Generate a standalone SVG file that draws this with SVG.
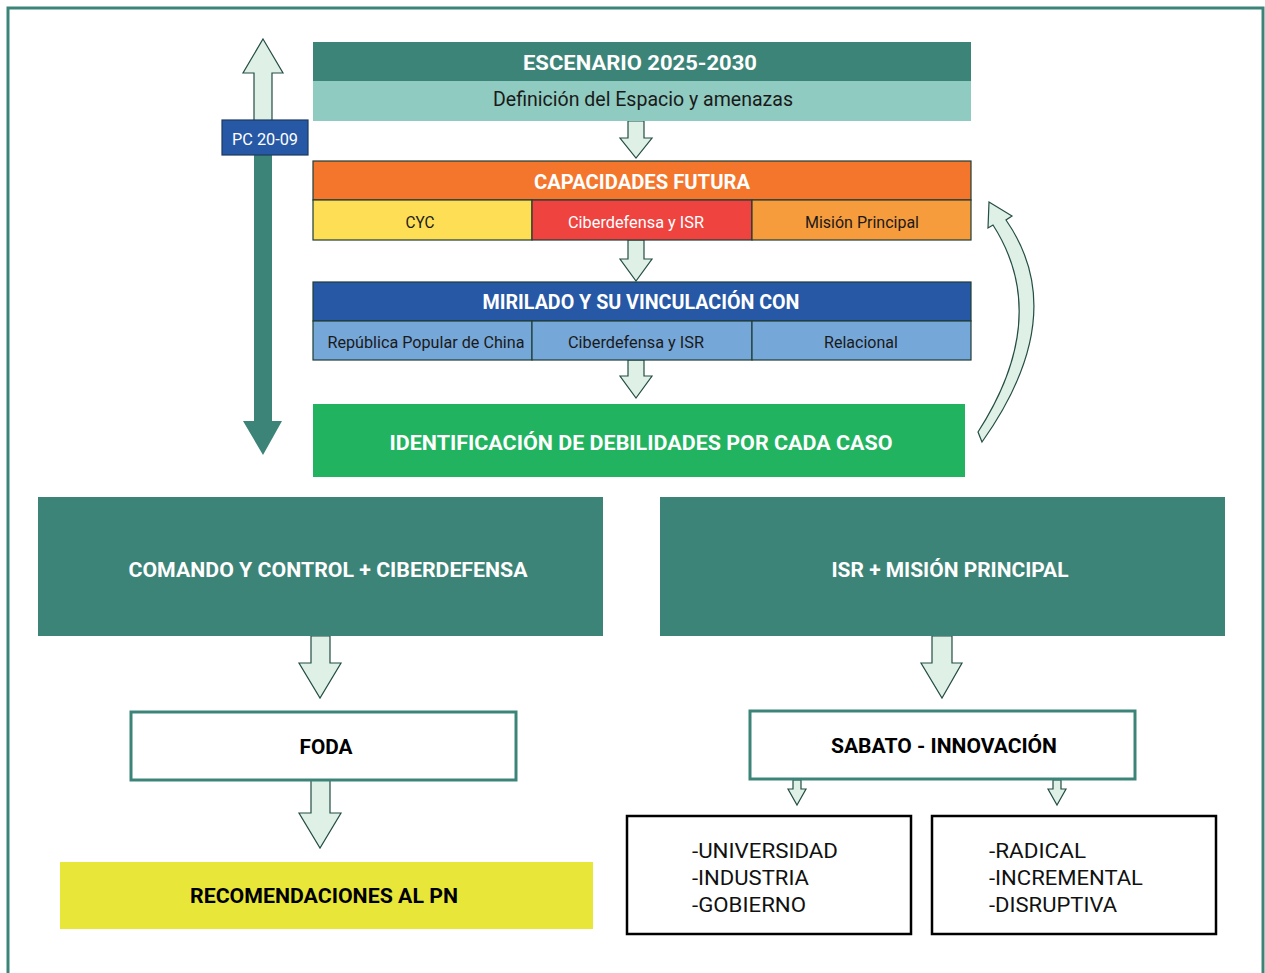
<svg xmlns="http://www.w3.org/2000/svg" width="1265" height="973" viewBox="0 0 1265 973">
<style>
.t{font-family:Roboto,"Liberation Sans",sans-serif;}
.b{font-weight:bold;}
.w{fill:#ffffff;}
.k{fill:#1a1a1a;}
.cell{stroke:#1f3d36;stroke-width:1.2;}
.la{fill:#dff0e6;stroke:#244d44;stroke-width:1.2;}
</style>
<rect x="8" y="8" width="1255" height="975" fill="#ffffff" stroke="#3d8478" stroke-width="3"/>

<g id="connectors">
  <path class="la" d="M628,121 H644 V138 H652 L636,158 L620,138 H628 Z"/>
  <path class="la" d="M628,240 H644 V259 H652 L636,281 L620,259 H628 Z"/>
  <path class="la" d="M628,360 H644 V376 H652 L636,398 L620,376 H628 Z"/>
  <path class="la" d="M989,202 L1012,216 L1006,220 Q1072,315 982,442 L978,432 Q1052,317 993,225 L988,228 Z"/>
  <path class="la" d="M263,39 L283,73 H272 V121 H254 V73 H243 Z"/>
  <path d="M254,155 H272 V421 H282 L263,455 L243,421 H254 Z" fill="#3d8478"/>
  <path class="la" d="M311,636 H330 V663 H341 L320,698 L299,663 H311 Z"/>
  <path class="la" d="M311,780 H330 V813 H341 L320,848 L299,813 H311 Z"/>
  <path class="la" d="M932,636 H952 V663 H962 L942,698 L921,663 H932 Z"/>
  <path class="la" d="M793,780 H801 V789 H806 L797,805 L788,789 H793 Z"/>
  <path class="la" d="M1053,780 H1061 V789 H1066 L1057,805 L1048,789 H1053 Z"/>
</g>

<g id="pc">
  <rect x="222" y="120" width="86" height="35" fill="#2758a5" stroke="#1b3a5e" stroke-width="1.2"/>
  <text class="t w" x="265" y="145" font-size="17" text-anchor="middle" textLength="66" lengthAdjust="spacingAndGlyphs">PC 20-09</text>
</g>

<g id="escenario">
  <rect x="313" y="42" width="658" height="39" fill="#3d8478"/>
  <rect x="313" y="81" width="658" height="40" fill="#8fcbc0"/>
  <text class="t b w" x="640" y="70" font-size="21" text-anchor="middle" textLength="234" lengthAdjust="spacingAndGlyphs">ESCENARIO 2025-2030</text>
  <text class="t k" x="643" y="106" font-size="20" text-anchor="middle" textLength="300" lengthAdjust="spacingAndGlyphs">Definición del Espacio y amenazas</text>
</g>

<g id="capacidades">
  <rect class="cell" x="313" y="161" width="658" height="39" fill="#f4762c"/>
  <rect class="cell" x="313" y="200" width="219" height="40" fill="#fdde55"/>
  <rect class="cell" x="532" y="200" width="220" height="40" fill="#ef4340"/>
  <rect class="cell" x="752" y="200" width="219" height="40" fill="#f79c3c"/>
  <text class="t b w" x="642" y="189" font-size="20" text-anchor="middle" textLength="216" lengthAdjust="spacingAndGlyphs">CAPACIDADES FUTURA</text>
  <text class="t k" x="420" y="228" font-size="17" text-anchor="middle" textLength="29" lengthAdjust="spacingAndGlyphs">CYC</text>
  <text class="t w" x="636" y="228" font-size="17" text-anchor="middle" textLength="136" lengthAdjust="spacingAndGlyphs">Ciberdefensa y ISR</text>
  <text class="t k" x="862" y="228" font-size="17" text-anchor="middle" textLength="114" lengthAdjust="spacingAndGlyphs">Misión Principal</text>
</g>

<g id="mirilado">
  <rect class="cell" x="313" y="282" width="658" height="39" fill="#2758a5"/>
  <rect class="cell" x="313" y="321" width="219" height="39" fill="#76a7d9"/>
  <rect class="cell" x="532" y="321" width="220" height="39" fill="#76a7d9"/>
  <rect class="cell" x="752" y="321" width="219" height="39" fill="#76a7d9"/>
  <text class="t b w" x="641" y="309" font-size="20" text-anchor="middle" textLength="317" lengthAdjust="spacingAndGlyphs">MIRILADO Y SU VINCULACIÓN CON</text>
  <text class="t k" x="426" y="348" font-size="17" text-anchor="middle" textLength="197" lengthAdjust="spacingAndGlyphs">República Popular de China</text>
  <text class="t k" x="636" y="348" font-size="17" text-anchor="middle" textLength="136" lengthAdjust="spacingAndGlyphs">Ciberdefensa y ISR</text>
  <text class="t k" x="861" y="348" font-size="17" text-anchor="middle" textLength="74" lengthAdjust="spacingAndGlyphs">Relacional</text>
</g>

<g id="identificacion">
  <rect x="313" y="404" width="652" height="73" fill="#21b35f"/>
  <text class="t b w" x="641" y="450" font-size="20" text-anchor="middle" textLength="503" lengthAdjust="spacingAndGlyphs">IDENTIFICACIÓN DE DEBILIDADES POR CADA CASO</text>
</g>

<g id="comando">
  <rect x="38" y="497" width="565" height="139" fill="#3d8478"/>
  <text class="t b w" x="328" y="577" font-size="21" text-anchor="middle" textLength="399" lengthAdjust="spacingAndGlyphs">COMANDO Y CONTROL + CIBERDEFENSA</text>
</g>

<g id="isr">
  <rect x="660" y="497" width="565" height="139" fill="#3d8478"/>
  <text class="t b w" x="950" y="577" font-size="21" text-anchor="middle" textLength="237" lengthAdjust="spacingAndGlyphs">ISR + MISIÓN PRINCIPAL</text>
</g>

<g id="foda">
  <rect x="131" y="712" width="385" height="68" fill="#ffffff" stroke="#3d8478" stroke-width="3"/>
  <text class="t b" x="326" y="754" font-size="20" text-anchor="middle" fill="#000" textLength="53" lengthAdjust="spacingAndGlyphs">FODA</text>
</g>

<g id="sabato">
  <rect x="750" y="711" width="385" height="68" fill="#ffffff" stroke="#3d8478" stroke-width="3"/>
  <text class="t b" x="944" y="753" font-size="20" text-anchor="middle" fill="#000" textLength="226" lengthAdjust="spacingAndGlyphs">SABATO - INNOVACIÓN</text>
</g>

<g id="recomendaciones">
  <rect x="60" y="862" width="533" height="67" fill="#e8e638"/>
  <text class="t b" x="324" y="903" font-size="20" text-anchor="middle" fill="#000" textLength="268" lengthAdjust="spacingAndGlyphs">RECOMENDACIONES AL PN</text>
</g>

<g id="actores">
  <rect x="627" y="816" width="284" height="118" fill="#ffffff" stroke="#000" stroke-width="2.5"/>
  <text class="t" x="692" y="858" font-size="21" fill="#111" textLength="146" lengthAdjust="spacingAndGlyphs">-UNIVERSIDAD</text>
  <text class="t" x="692" y="885" font-size="21" fill="#111" textLength="117" lengthAdjust="spacingAndGlyphs">-INDUSTRIA</text>
  <text class="t" x="692" y="912" font-size="21" fill="#111" textLength="114" lengthAdjust="spacingAndGlyphs">-GOBIERNO</text>
</g>

<g id="tipos">
  <rect x="932" y="816" width="284" height="118" fill="#ffffff" stroke="#000" stroke-width="2.5"/>
  <text class="t" x="989" y="858" font-size="21" fill="#111" textLength="97" lengthAdjust="spacingAndGlyphs">-RADICAL</text>
  <text class="t" x="989" y="885" font-size="21" fill="#111" textLength="154" lengthAdjust="spacingAndGlyphs">-INCREMENTAL</text>
  <text class="t" x="989" y="912" font-size="21" fill="#111" textLength="128" lengthAdjust="spacingAndGlyphs">-DISRUPTIVA</text>
</g>
</svg>
